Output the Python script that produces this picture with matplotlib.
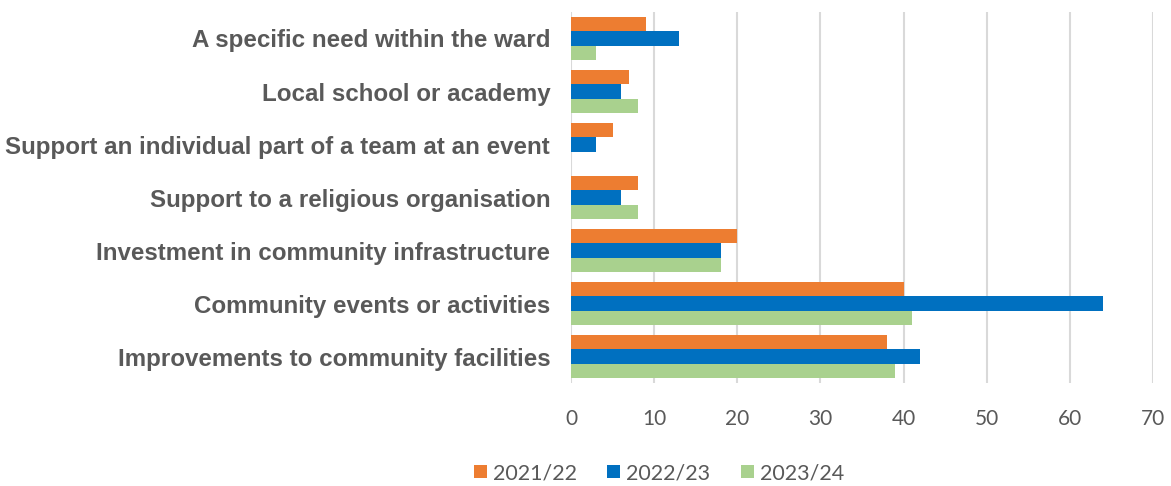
import numpy as np
import matplotlib.pyplot as plt

# categories listed bottom -> top
categories = [
    'Improvements to community facilities',
    'Community events or activities',
    'Investment in community infrastructure',
    'Support to a religious organisation',
    'Support an individual part of a team at an event',
    'Local school or academy',
    'A specific need within the ward',
]
years = ['2021/22', '2022/23', '2023/24']
v2122 = [38, 40, 20, 8, 5, 7, 9]
v2223 = [42, 64, 18, 6, 3, 6, 13]
v2324 = [39, 41, 18, 8, 0, 8, 3]
colors = ['#ed7d31', '#0070c0', '#a9d18e']

fig = plt.figure(figsize=(11.71, 4.86), dpi=100)
ax = fig.add_axes([571 / 1171, 1 - 383 / 486, (1153 - 571) / 1171, (383 - 12) / 486])

y = np.arange(len(categories))
h = 0.265
for i, (vals, lab) in enumerate(zip([v2122, v2223, v2324], years)):
    ax.barh(y + (1 - i) * h, vals, height=h, color=colors[i], label=lab, zorder=3)

ax.set_xlim(0, 70)
ax.set_ylim(-0.5, len(categories) - 0.5)
ax.set_xticks(range(0, 71, 10))
ax.set_yticks(y)
ax.set_yticklabels(categories, fontsize=17.35, fontweight='bold', color='#595959',
                   family='Liberation Sans')
ax.tick_params(axis='x', labelsize=15, labelcolor='#595959', length=0, pad=19)
ax.tick_params(axis='y', length=0, pad=15)
for lbl in ax.get_xticklabels():
    lbl.set_family('Lato')
ax.grid(axis='x', color='#d9d9d9', linewidth=1.5, zorder=0)
for s in ax.spines.values():
    s.set_visible(False)

leg = fig.legend(loc='center', bbox_to_anchor=(659 / 1171, 1 - 473 / 486), ncol=3,
                 frameon=False, handlelength=0.6, handleheight=0.6, handletextpad=0.3,
                 columnspacing=1.4, prop={'family': 'Lato', 'size': 15.5})
for t in leg.get_texts():
    t.set_color('#595959')

fig.savefig('out.png', dpi=100)
